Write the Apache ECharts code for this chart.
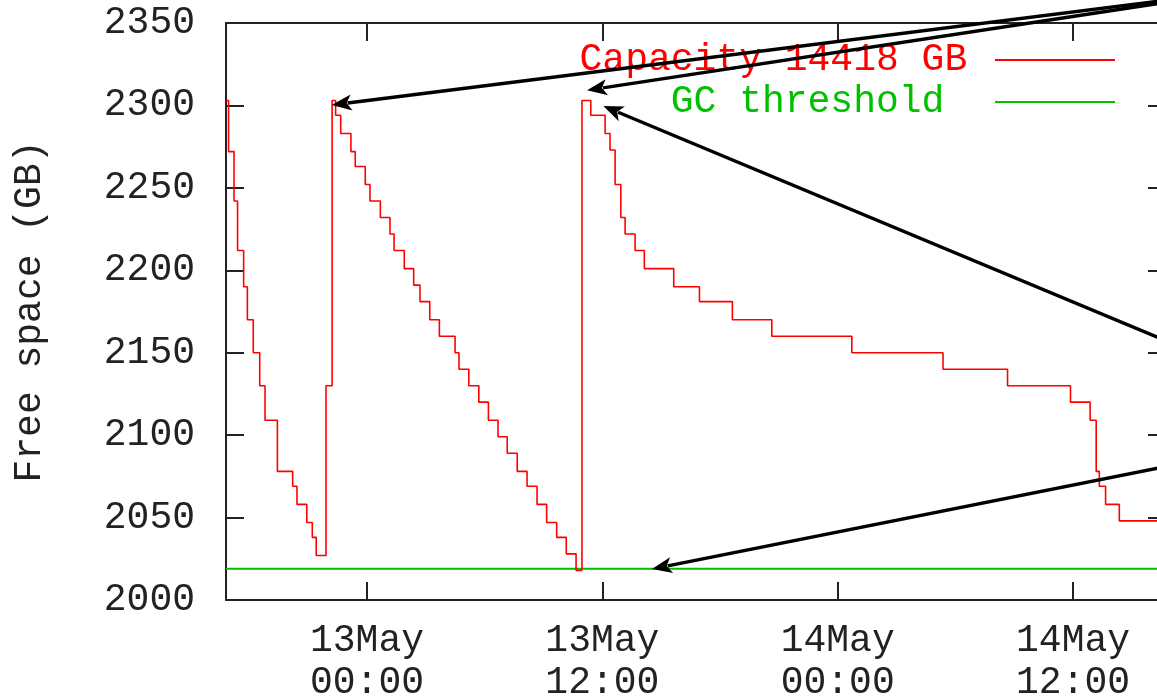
<!DOCTYPE html>
<html>
<head>
<meta charset="utf-8">
<script src="https://cdn.jsdelivr.net/npm/echarts@6/dist/echarts.min.js"></script>
<style>
  html, body { margin: 0; padding: 0; background: #fff; overflow: hidden; }
  #chart { width: 1180px; height: 699px; }
</style>
</head>
<body>
<div id="chart"></div>
<script>
// hours relative to 13 May 00:00
const xMin = -7.19
const xMax = 40.74

// free space steps: at times[i] the value becomes freeSpace[i]
const times = [
  -7.19, -7.06, -6.78, -6.60, -6.29, -6.10, -5.80, -5.47, -5.20, -4.57,
  -3.79, -3.57, -3.07, -2.79, -2.59, -2.09, -1.78, -1.60, -1.34, -0.82,
  -0.60, -0.09, 0.15, 0.68, 1.17, 1.38, 1.90, 2.38, 2.70, 3.20,
  3.69, 4.49, 4.69, 5.19, 5.70, 6.19, 6.68, 7.15, 7.66, 8.16,
  8.67, 9.16, 9.67, 10.16, 10.66, 10.96, 11.41, 12.14, 12.39, 12.65,
  12.94, 13.16, 13.67, 14.14, 15.64, 16.95, 18.63, 20.64, 24.72, 29.37,
  32.66, 35.87, 36.87, 37.18, 37.34, 37.66, 38.36, 40.74,
]
const freeSpace = [
  2303, 2272, 2242, 2212, 2190, 2170, 2150, 2130, 2109, 2078,
  2069, 2058, 2047, 2038, 2027, 2130, 2303, 2294, 2283, 2272,
  2263, 2252, 2242, 2232, 2222, 2212, 2201, 2191, 2181, 2170,
  2160, 2150, 2140, 2130, 2120, 2109, 2099, 2089, 2078, 2069,
  2058, 2047, 2038, 2028, 2018, 2303, 2294, 2283, 2273, 2252,
  2232, 2222, 2212, 2201, 2190, 2181, 2170, 2160, 2150, 2140,
  2130, 2120, 2109, 2078, 2069, 2058, 2048, 2048,
]
const gcThreshold = 2019

const seriesNames = ['Capacity 14418 GB', 'GC threshold']

const xTickValues = [0, 12, 24, 36]
const xTickLabels = ['13May\n00:00', '13May\n12:00', '14May\n00:00', '14May\n12:00']

// annotation arrows: [tailHour, tailGB, headHour, headGB]
const arrows = [
  [44.52, 2369.4, -1.80, 2300.3],
  [44.52, 2369.4, 11.22, 2309.2],
  [41.46, 2153.7, 12.05, 2299.6],
  [41.46, 2082.7, 14.53, 2018.8],
]

const font = '"Liberation Mono", "DejaVu Sans Mono", monospace'
const ink = '#222'

const chart = echarts.init(document.getElementById('chart'))

const tickStyle = { show: true, inside: true, length: 18, lineStyle: { color: ink, width: 2 } }
const lineStyle = { color: ink, width: 2 }

const option = {
  animation: false,
  backgroundColor: '#fff',
  grid: {
    left: 226,
    top: 23,
    width: 940,
    bottom: 99,
    outerBoundsMode: 'none',
  },
  legend: {
    orient: 'vertical',
    align: 'right',
    right: 65,
    top: 39,
    padding: 0,
    itemGap: 0,
    itemWidth: 120,
    itemHeight: 2,
    icon: 'rect',
    selectedMode: false,
    textStyle: { fontFamily: font, fontSize: 38, lineHeight: 42 },
    formatter: (n) => (n === seriesNames[0] ? n + ' ' : n.padStart(16) + '  '),
    data: [
      { name: seriesNames[0], textStyle: { color: '#ff0000' } },
      { name: seriesNames[1], textStyle: { color: '#00c000' } },
    ],
  },
  xAxis: [
    {
      type: 'value',
      min: xMin,
      max: xMax,
      position: 'bottom',
      splitLine: { show: false },
      axisLine: { show: true, onZero: false, lineStyle },
      axisTick: { ...tickStyle, customValues: xTickValues },
      axisLabel: {
        customValues: xTickValues,
        margin: 20,
        color: ink,
        fontFamily: font,
        fontSize: 38,
        lineHeight: 42,
        formatter: (v) => xTickLabels[xTickValues.indexOf(Math.round(v))] || '',
      },
    },
    {
      type: 'value',
      min: xMin,
      max: xMax,
      position: 'top',
      splitLine: { show: false },
      axisLine: { show: true, onZero: false, lineStyle },
      axisTick: { ...tickStyle, customValues: xTickValues },
      axisLabel: { show: false },
    },
  ],
  yAxis: [
    {
      type: 'value',
      min: 2000,
      max: 2350,
      interval: 50,
      position: 'left',
      name: 'Free space (GB)',
      nameLocation: 'middle',
      nameGap: 177,
      nameTextStyle: { color: ink, fontFamily: font, fontSize: 38 },
      splitLine: { show: false },
      axisLine: { show: true, onZero: false, lineStyle },
      axisTick: { ...tickStyle },
      axisLabel: {
        margin: 31,
        color: ink,
        fontFamily: font,
        fontSize: 38,
        formatter: (v) => String(v),
      },
    },
    {
      type: 'value',
      min: 2000,
      max: 2350,
      interval: 50,
      position: 'right',
      splitLine: { show: false },
      axisLine: { show: true, onZero: false, lineStyle },
      axisTick: { ...tickStyle },
      axisLabel: { show: false },
    },
  ],
  series: [
    {
      name: seriesNames[0],
      type: 'line',
      step: 'end',
      showSymbol: false,
      symbol: 'none',
      data: times.map((t, i) => [t, freeSpace[i]]),
      lineStyle: { color: '#ff0000', width: 1.6 },
      itemStyle: { color: '#ff0000' },
      z: 3,
    },
    {
      name: seriesNames[1],
      type: 'line',
      showSymbol: false,
      symbol: 'none',
      data: [[xMin, gcThreshold], [xMax, gcThreshold]],
      lineStyle: { color: '#00c000', width: 2 },
      itemStyle: { color: '#00c000' },
      z: 2,
    },
  ],
}

chart.setOption(option)

function drawArrows() {
  const graphics = []
  arrows.forEach(([th, tv, hh, hv]) => {
    const tail = chart.convertToPixel({ gridIndex: 0 }, [th, tv])
    const head = chart.convertToPixel({ gridIndex: 0 }, [hh, hv])
    const dx = head[0] - tail[0]
    const dy = head[1] - tail[1]
    const len = Math.sqrt(dx * dx + dy * dy)
    const ux = dx / len
    const uy = dy / len
    const headLen = 20
    const headHalf = 8
    const bx = head[0] - ux * headLen
    const by = head[1] - uy * headLen
    graphics.push({
      type: 'line',
      z: 100,
      shape: { x1: tail[0], y1: tail[1], x2: bx + ux * 4, y2: by + uy * 4 },
      style: { stroke: '#000', lineWidth: 3.5 },
    })
    graphics.push({
      type: 'polygon',
      z: 100,
      shape: {
        points: [
          head,
          [bx - uy * headHalf, by + ux * headHalf],
          [head[0] - ux * (headLen - 5), head[1] - uy * (headLen - 5)],
          [bx + uy * headHalf, by - ux * headHalf],
        ],
      },
      style: { fill: '#000' },
    })
  })
  chart.setOption({ graphic: graphics })
}

drawArrows()
</script>
</body>
</html>
